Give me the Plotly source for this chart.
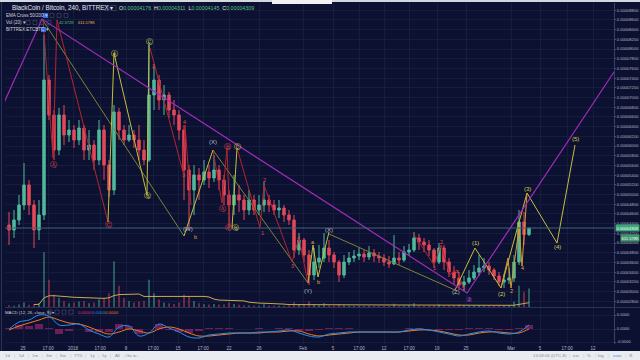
import plotly.graph_objects as go
import pandas as pd

# ---------------- data (prices in satoshi, 1e-8 BTC) ----------------
first_open = 4372
closes = [4268, 4475, 4784, 5196, 4784, 4268, 4578, 7361, 6640, 5918,
          6640, 6227, 6330, 6124, 6372, 5918, 6021, 5712, 6330, 5609,
          5093, 6702, 6330, 6124, 6227, 6124, 5918, 5712, 7052, 7361,
          6949, 7052, 6743, 6640, 6330, 5506, 5093, 5403, 5299, 5464,
          5341, 5506, 5299, 4990, 4784, 4990, 4887, 4681, 4887, 4681,
          4784, 4887, 4784, 4681, 4722, 4578, 4475, 3856, 4062, 3753,
          3340, 3609, 3691, 3897, 3753, 3609, 3340, 3609, 3691, 3732,
          3774, 3712, 3794, 3732, 3691, 3609, 3567, 3691, 3650, 3815,
          3856, 4104, 4021, 3959, 3856, 3609, 3897, 3609, 3402, 3279,
          3134, 3196, 3279, 3402, 3485, 3526, 3443, 3320, 3196, 3237,
          3279, 3609, 4433, 4176, 4309]
highs = [4640, 4681, 4990, 5650, 5299, 4887, 4887, 8289, 7465, 6743,
         6784, 6846, 6537, 6434, 6537, 6434, 6330, 6124, 6537, 6434,
         5712, 6846, 6784, 6434, 6434, 6330, 6434, 6124, 8145, 7671,
         7465, 7258, 7114, 6949, 6743, 6434, 5609, 5609, 5547, 5712,
         5609, 5815, 5609, 5403, 5093, 5403, 5196, 4990, 5093, 4990,
         4990, 5258, 4990, 4887, 4887, 4784, 4681, 4578, 4207, 4104,
         3856, 3897, 3959, 4207, 4062, 3815, 3650, 3753, 3815, 3856,
         3897, 3856, 3938, 3877, 3815, 3774, 3732, 4165, 3815, 3938,
         3980, 4227, 4186, 4104, 4062, 3897, 4000, 3959, 3691, 3526,
         3402, 3320, 3443, 3547, 3753, 3691, 3609, 3485, 3402, 3361,
         3485, 3753, 4681, 4640, 4311]
lows = [3959, 4104, 4372, 4681, 4578, 3897, 4062, 4475, 6537, 5712,
        5815, 6021, 6083, 5959, 6021, 5712, 5712, 5506, 5609, 5299,
        4949, 4990, 6124, 6021, 6083, 5959, 5712, 5609, 5671, 6743,
        6743, 6640, 6578, 6434, 6124, 4887, 4268, 4578, 4887, 5196,
        5134, 5258, 5093, 4784, 4310, 4578, 4640, 4475, 4578, 4578,
        4578, 4640, 4640, 4578, 4516, 4433, 4372, 3691, 3753, 3609,
        3134, 3237, 3485, 3609, 3609, 3485, 3196, 3279, 3547, 3609,
        3650, 3609, 3650, 3609, 3588, 3526, 3485, 3547, 3547, 3609,
        3732, 3815, 3856, 3815, 3732, 3485, 3567, 3443, 3299, 3155,
        3031, 3011, 3155, 3237, 3320, 3402, 3340, 3237, 3114, 3073,
        3155, 3196, 3547, 3959, 4145]
volumes_k = [60, 45, 80, 150, 70, 90, 120, 1800, 900, 400,
             300, 200, 120, 150, 180, 200, 120, 150, 250, 300,
             450, 1500, 700, 300, 200, 150, 180, 200, 900, 450,
             250, 150, 120, 100, 150, 400, 350, 200, 120, 90,
             80, 100, 80, 90, 150, 100, 70, 60, 50, 50,
             40, 90, 50, 40, 40, 45, 50, 160, 100, 80,
             180, 90, 60, 120, 50, 40, 90, 60, 40, 30,
             30, 30, 35, 30, 30, 35, 30, 110, 40, 40,
             50, 120, 60, 40, 40, 60, 80, 50, 50, 60,
             80, 60, 50, 40, 60, 40, 30, 40, 50, 40,
             60, 180, 700, 500, 612]

macd_idx = list(range(0, 105, 2))
macd_line = [0, 7, 9, 14, 13, 4, 4, 5, -1, -5, -8, 2, 3, -7, -4, 5, 1, -3, -8, -9,
             -6, -5, -4, -4, -4, -3, -3, -2, -1, -4, -7, -8, -5, -4, -3, -3, -3, -3,
             -3, -3, -1, 0, -1, -3, -5, -7, -5, -3, -2, -4, -5, -3, 4]
signal_line = [-1, 3, 6, 9, 12, 9, 6, 5, 2, -2, -5, -3, 0, -2, -4, 0, 2, 0, -4, -7,
               -7, -6, -5, -4, -4, -4, -3, -3, -2, -2, -5, -7, -6, -5, -4, -3, -3, -3,
               -3, -3, -2, -1, -1, -2, -4, -6, -6, -4, -3, -3, -4, -4, 0]

time_tick_idx = [2.8, 7.8, 12.8, 18.2, 23.4, 28.8, 33.8, 38.8, 44.0, 50.0, 58.8,
                 64.8, 70.0, 75.0, 80.0, 85.6, 91.4, 100.4, 106.2, 111.6, 116.8]
time_tick_text = ["25", "17:00", "2018", "17:00", "8", "17:00", "15", "17:00", "22", "26",
                  "Feb", "5", "17:00", "12", "17:00", "19", "25", "Mar", "5", "17:00", "12"]
price_ticks = list(range(2800, 8801, 200))

# wave drawings: (candle index, price)
purple_wave = [(-1.8, 6710), (6.6, 8619), (91.6, 2969), (121.0, 7526)]
olive_waves = [[(6.6, 8619), (35.0, 4145)],
               [(40.8, 5918), (59.8, 3175)],
               [(64.0, 4186), (89.2, 3031)]]
yellow_waves = [[(19.8, 4433), (21.0, 7918), (27.6, 4990), (28.0, 8083)],
                [(35.0, 4145), (40.8, 5918)],
                [(44.6, 4310), (45.6, 5959)],
                [(59.8, 3175), (60.8, 3959), (61.8, 3299), (64.0, 4227)],
                [(89.2, 3031), (93.2, 3897), (98.4, 3073), (103.6, 5031), (109.6, 4000), (113.2, 6021)]]
orange_waves = [[(98.4, 3073), (99.8, 3691), (100.4, 3073), (102.0, 4310), (102.6, 3526), (103.6, 5031)]]
red_waves = [[(6.8, 8619), (8.8, 5753), (9.6, 8599), (19.8, 4433)],
             [(28.2, 8021), (34.8, 5464), (35.2, 6434), (36.4, 4784)],
             [(40.8, 5918), (42.6, 4824), (43.6, 5959), (44.2, 4330)],
             [(45.6, 5959), (50.2, 4310), (51.0, 5196), (56.6, 3609), (58.0, 4104), (59.8, 3175)],
             [(80.8, 4207), (85.0, 3547), (86.4, 3959), (88.2, 3351), (89.6, 3444), (90.8, 3093)]]

wave_labels = [
    ("Ⓐ", 8.8, 5609, "red"), ("Ⓒ", 19.8, 4392, "red"), ("Ⓐ", 42.6, 4722, "red"),
    ("Ⓑ", 43.6, 6000, "red"), ("Ⓒ", 43.8, 4310, "red"),
    ("Ⓐ", 21.0, 7918, "yellow"), ("Ⓑ", 27.6, 4990, "yellow"), ("Ⓒ", 28.0, 8145, "yellow"),
    ("Ⓑ", 45.2, 4310, "yellow"), ("Ⓒ", 45.6, 6000, "yellow"),
    ("(W)", 35.8, 4289, "grey"), ("(X)", 40.8, 6083, "grey"), ("(Y)", 59.8, 3011, "grey"),
    ("(X)", 64.0, 4268, "grey"), ("(Z)", 89.4, 2990, "grey"),
    ("a", 60.8, 4021, "orange"), ("b", 61.8, 3196, "orange"), ("b", 37.2, 4124, "orange"),
    ("2", 28.8, 7650, "red"), ("4", 35.0, 6495, "red"), ("3", 34.8, 5403, "red"),
    ("1", 50.6, 4207, "red"), ("2", 51.0, 5299, "red"), ("3", 56.6, 3526, "red"),
    ("4", 57.8, 4104, "red"), ("1", 85.0, 3485, "red"), ("2", 86.4, 4021, "red"),
    ("4", 89.6, 3402, "red"), ("5", 90.8, 3073, "red"),
    ("(1)", 93.2, 4000, "yellow"), ("(2)", 98.4, 2949, "yellow"), ("(3)", 103.6, 5114, "yellow"),
    ("(4)", 109.6, 3918, "yellow"), ("(5)", 113.2, 6145, "yellow"),
    ("2", 100.4, 3011, "orange"), ("5", 101.8, 4372, "orange"), ("4", 102.6, 3485, "orange"),
    ("②", 92.0, 2846, "magenta"),
]

# ---------------- styling / layout ----------------
W, H = 640, 360
ML, MR, MT, MB = 5, 26, 3, 16
PW = W - ML - MR
PH = H - MT - MB


def px(x):
    return (x - ML) / PW


def py(y):
    return (H - MB - y) / PH


BG = "#0c1131"
GRID = "#161c3c"
UP = "#4fb99a"
DOWN = "#e3485a"
TXT = "#a9adb8"
FONT = "Liberation Sans, Arial, sans-serif"
LABEL_COLORS = {"red": "#e2434f", "yellow": "#d6cf4f", "grey": "#b9bcc6",
                "orange": "#e8a431", "magenta": "#d246e6"}

idx = list(range(len(closes)))
opens = [first_open] + closes[:-1]

fig = go.Figure()

vol_colors = ["rgba(79,185,154,0.5)" if c >= o else "rgba(227,72,90,0.5)"
              for o, c in zip(opens, closes)]
fig.add_trace(go.Bar(x=idx, y=volumes_k, yaxis="y3", marker_color=vol_colors,
                     marker_line_width=0, width=0.35, hoverinfo="skip"))
vol_ma = pd.Series(volumes_k).rolling(20, min_periods=6).mean()
fig.add_trace(go.Scatter(x=idx, y=vol_ma, yaxis="y3", mode="lines",
                         line=dict(color="#c9a94e", width=1), hoverinfo="skip"))

fig.add_trace(go.Candlestick(
    x=idx, open=opens, high=highs, low=lows, close=closes,
    increasing=dict(line=dict(color=UP, width=1), fillcolor=UP),
    decreasing=dict(line=dict(color=DOWN, width=1), fillcolor=DOWN),
    whiskerwidth=0, hoverinfo="skip"))


def add_path(points, color, width=1.0):
    fig.add_trace(go.Scatter(x=[p[0] for p in points], y=[p[1] for p in points],
                             mode="lines", line=dict(color=color, width=width),
                             hoverinfo="skip"))


for seg in olive_waves:
    add_path(seg, "#7f8238")
for seg in red_waves:
    add_path(seg, "#b3262b")
for seg in yellow_waves:
    add_path(seg, "#c4be3c")
for seg in orange_waves:
    add_path(seg, "#d99a2b")
add_path(purple_wave, "#a02cb8", 1.2)

# MACD pane
hist = [m - s for m, s in zip(macd_line, signal_line)]
fig.add_trace(go.Bar(x=macd_idx, y=hist, yaxis="y2", width=1.6,
                     marker_color="rgba(190,40,120,0.55)", marker_line_width=0,
                     hoverinfo="skip"))
fig.add_trace(go.Scatter(x=macd_idx, y=signal_line, yaxis="y2", mode="lines",
                         line=dict(color="#f07a1e", width=1, shape="spline"), hoverinfo="skip"))
fig.add_trace(go.Scatter(x=macd_idx, y=macd_line, yaxis="y2", mode="lines",
                         line=dict(color="#2a8ee8", width=1, shape="spline"), hoverinfo="skip"))

annotations = []
for text, xi, pr, ck in wave_labels:
    size = 7 if text in "ⒶⒷⒸ②" else (6 if text.startswith("(") else 5.5)
    annotations.append(dict(x=xi, y=pr, xref="x", yref="y", text=text, showarrow=False,
                            font=dict(size=size, color=LABEL_COLORS[ck], family=FONT)))


def ptext(x, y, text, size=4.5, color=TXT, anchor="left", bg=None):
    d = dict(x=px(x), y=py(y), xref="paper", yref="paper", text=text, showarrow=False,
             xanchor=anchor, yanchor="middle", font=dict(size=size, color=color, family=FONT))
    if bg:
        d.update(bgcolor=bg, borderpad=0.5)
    annotations.append(d)


G = "#56c28a"
ptext(10, 8, "BlackCoin / Bitcoin, 240, BITTREX ▾", 6.3, "#e8e9ee")
ptext(117, 8, f"O<span style='color:{G}'>0.00004176</span>  H<span style='color:{G}'>0.00004311</span>"
              f"  L<span style='color:{G}'>0.00004145</span>  C<span style='color:{G}'>0.00004309</span>",
      5.3, "#e8e9ee")
ptext(4, 15.5, "EMA Cross 50/200 ▾", 4.5, "#d0d2d8")
ptext(4, 22.5, "Vol (20) ▾", 4.5, "#d0d2d8")
ptext(57, 22.5, "42.372K", 4.0, G)
ptext(76, 22.5, "611.578K", 4.0, "#e4b94c")
ptext(4, 29.5, "BITTREX:ETCBTC ▾", 4.5, "#d0d2d8")
ptext(3, 312, "MACD (12, 26, close, 9) ▾", 4.3, "#d0d2d8")
ptext(76, 312, "0.0000", 4.3, "#e0307a")
ptext(90, 312, "0.0000", 4.3, "#2a8ee8")
ptext(103, 312, "0.0000", 4.3, "#f07a1e")
ptext(627, 227.5, "0.00004309", 4.1, "#ffffff", "center", "#3aa878")
ptext(630, 237.5, "611.578K", 4.1, "#ffffff", "center", "#3c9a6e")

left_bar = ["1d", "5d", "1m", "3m", "6m", "YTD", "1y", "5y", "All", "Go to..."]
left_x = [7, 21, 35, 49, 63, 78, 92, 104, 117, 133]
for t, x in zip(left_bar, left_x):
    ptext(x, 355.5, t, 4.3, "#8a8e99", "center")
for x in [14, 28, 42, 56, 70, 85, 98, 110, 124]:
    ptext(x, 355.5, "|", 4.3, "#c5c8cf", "center")
right_bar = [("14:08:06 (UTC-8)", 550, "#8a8e99"), ("ext", 576, "#8a8e99"), ("%", 589, "#8a8e99"),
             ("log", 601, "#8a8e99"), ("auto", 617, "#4a90e2"), ("⚙", 631, "#8a8e99")]
for t, x, c in right_bar:
    ptext(x, 355.5, t, 4.3, c, "center")
for x in [569, 583, 595, 608, 625]:
    ptext(x, 355.5, "|", 4.3, "#c5c8cf", "center")

shapes = [
    # bottom toolbar, top strip
    dict(type="rect", xref="paper", yref="paper", x0=px(0), x1=px(640), y0=py(361), y1=py(351),
         fillcolor="#e9ecf1", line=dict(width=0)),
    dict(type="rect", xref="paper", yref="paper", x0=px(0), x1=px(640), y0=py(2), y1=py(-1),
         fillcolor="#d3d7df", line=dict(width=0)),
    dict(type="rect", xref="paper", yref="paper", x0=px(272), x1=px(332), y0=py(4), y1=py(0),
         fillcolor="#eef0f3", line=dict(width=0)),
    dict(type="line", xref="paper", yref="y", x0=0, x1=1, y0=4309, y1=4309,
         line=dict(color="#3e6677", width=1)),
    dict(type="line", xref="paper", yref="paper", x0=0, x1=px(640), y0=py(307.5), y1=py(307.5),
         line=dict(color="#2c3356", width=1)),
    dict(type="line", xref="paper", yref="paper", x0=px(1.5), x1=px(1.5), y0=py(351), y1=py(2),
         line=dict(color="#2c3356", width=1)),
    dict(type="rect", xref="paper", yref="paper", x0=px(43), x1=px(48), y0=py(18), y1=py(13),
         fillcolor="#2f6fe0", line=dict(width=0)),
    dict(type="rect", xref="paper", yref="paper", x0=px(41), x1=px(46), y0=py(32), y1=py(27),
         fillcolor="#2f6fe0", line=dict(width=0)),
]
for x0 in [104, 111]:
    shapes.append(dict(type="rect", xref="paper", yref="paper", x0=px(x0), x1=px(x0 + 5),
                       y0=py(10.5), y1=py(5.5), line=dict(color="#4a5070", width=0.6)))
for x0 in [50, 57, 64]:
    shapes.append(dict(type="rect", xref="paper", yref="paper", x0=px(x0), x1=px(x0 + 4),
                       y0=py(17.5), y1=py(13.5), line=dict(color="#4a5070", width=0.6)))
for x0 in [26, 33, 40, 47]:
    shapes.append(dict(type="rect", xref="paper", yref="paper", x0=px(x0), x1=px(x0 + 4),
                       y0=py(24.5), y1=py(20.5), line=dict(color="#4a5070", width=0.6)))
for x0 in [48, 55, 62, 69]:
    shapes.append(dict(type="rect", xref="paper", yref="paper", x0=px(x0), x1=px(x0 + 4),
                       y0=py(314), y1=py(310), line=dict(color="#4a5070", width=0.6)))

fig.update_layout(
    width=W, height=H, margin=dict(l=ML, r=MR, t=MT, b=MB, autoexpand=False),
    paper_bgcolor=BG, plot_bgcolor=BG, showlegend=False, hovermode=False,
    barmode="overlay", font=dict(family=FONT, color=TXT, size=5),
    xaxis=dict(domain=[0, 1], range=[-0.8, 121], anchor="y2", tickmode="array",
               tickvals=time_tick_idx, ticktext=time_tick_text, automargin=False,
               tickfont=dict(size=4.5, color="#b4b7c1"), showgrid=True, gridcolor=GRID,
               gridwidth=1, zeroline=False, showline=False, ticks="",
               rangeslider=dict(visible=False), fixedrange=True),
    yaxis=dict(domain=[py(307), 1], range=[2681, 8949], side="right", anchor="x",
               tickmode="array", tickvals=price_ticks, automargin=False,
               ticktext=[f"{v / 1e8:.8f}" for v in price_ticks],
               tickfont=dict(size=4.1, color="#b4b7c1"), showgrid=True, gridcolor=GRID,
               zeroline=False, showline=True, linecolor="#3a4166", linewidth=1,
               ticks="outside", ticklen=1, tickcolor="#4a5070"),
    yaxis3=dict(overlaying="y", range=[0, 10000], visible=False),
    yaxis2=dict(domain=[0, py(308)], range=[-15, 21], side="right", anchor="x",
                tickmode="array", tickvals=[14, 0, -13], automargin=False,
                ticktext=["0.0000", "0.0000", "-0.0000"],
                tickfont=dict(size=4.1, color="#b4b7c1"), showgrid=True, gridcolor=GRID,
                zeroline=False, showline=True, linecolor="#3a4166", linewidth=1,
                ticks="outside", ticklen=1, tickcolor="#4a5070"),
    annotations=annotations, shapes=shapes,
)

fig.write_html("out.html", config={"displayModeBar": False},
               post_script="document.body.style.margin='0px';document.body.style.padding='0px';"
                           "document.body.style.overflow='hidden';")
